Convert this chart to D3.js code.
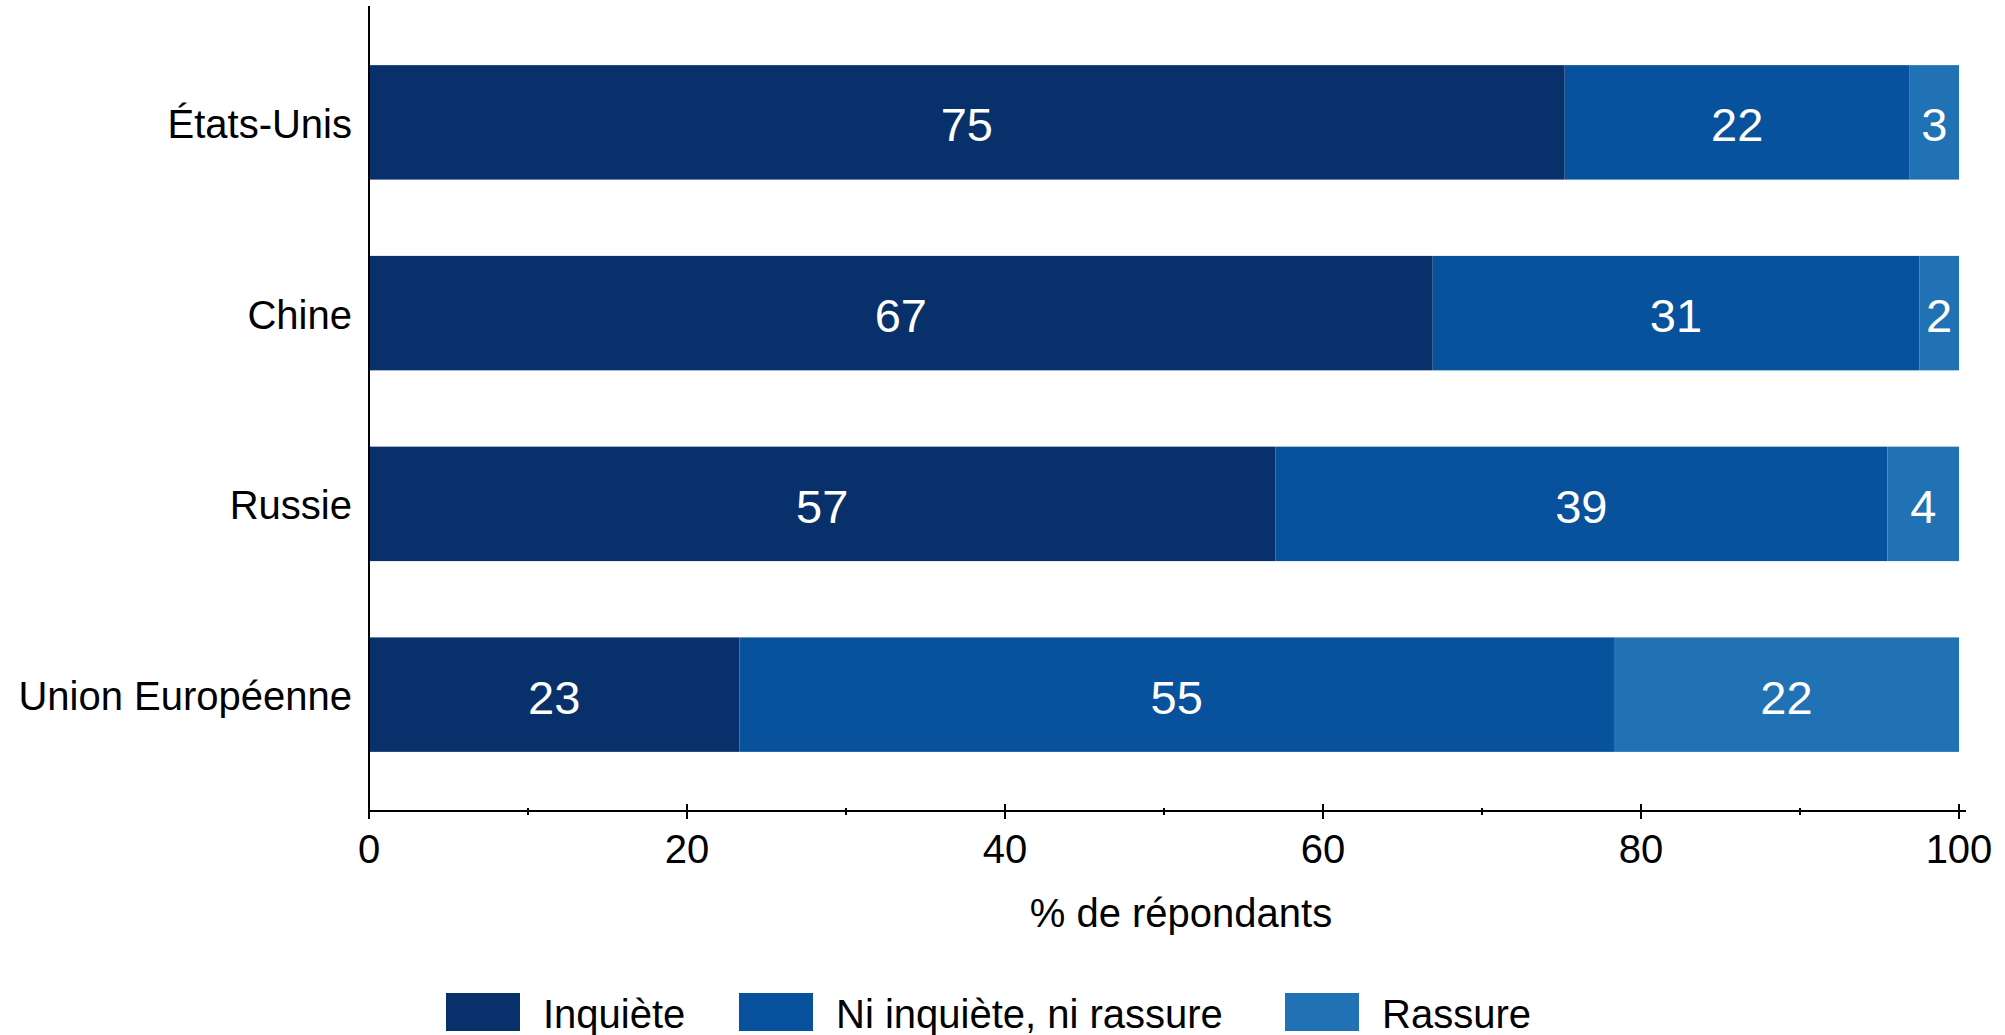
<!DOCTYPE html>
<html><head><meta charset="utf-8">
<script src="https://cdn.jsdelivr.net/npm/d3@7"></script>
<style>html,body{margin:0;padding:0;background:#fff;}svg{display:block;font-family:"Liberation Sans",Arial,sans-serif;}</style>
</head><body>
<script>
const categories = ["États-Unis", "Chine", "Russie", "Union Européenne"];
const seriesNames = ["Inquiète", "Ni inquiète, ni rassure", "Rassure"];
const inquiete = [75.2, 66.9, 57.0, 23.3];
const niNi = [21.7, 30.6, 38.5, 55.0];
const rassure = [3.1, 2.5, 4.5, 21.7];
const labelsInquiete = [75, 67, 57, 23];
const labelsNiNi = [22, 31, 39, 55];
const labelsRassure = [3, 2, 4, 22];
const xTicks = [0, 20, 40, 60, 80, 100];
const xMinorTicks = [10, 30, 50, 70, 90];
const colors = ["#08306b", "#08519c", "#2171b5"];

const W = 2005, H = 1035;
const svg = d3.select("body").append("svg").attr("width", W).attr("height", H);
const x = d3.scaleLinear().domain([0, 100]).range([369, 1959]);
const y = d3.scaleBand().domain(categories).range([6, 811]).paddingInner(0.4).paddingOuter(0.31);

const rows = categories.map((c, i) => ({cat: c, vals: [inquiete[i], niNi[i], rassure[i]], labels: [labelsInquiete[i], labelsNiNi[i], labelsRassure[i]]}));
rows.forEach(r => {
  let acc = 0;
  r.vals.forEach((v, k) => {
    const x0 = acc, x1 = acc + v; acc = x1;
    svg.append("rect").attr("x", x(x0)).attr("y", y(r.cat)).attr("width", x(x1) - x(x0)).attr("height", y.bandwidth()).attr("fill", colors[k]);
    svg.append("text").attr("x", (x(x0) + x(x1)) / 2).attr("y", y(r.cat) + y.bandwidth() / 2 + 2).attr("dy", "0.36em")
      .attr("text-anchor", "middle").attr("fill", "#fff").attr("font-size", 47).text(r.labels[k]);
  });
});

// Left axis line
svg.append("line").attr("x1", 369).attr("x2", 369).attr("y1", 6).attr("y2", 811).attr("stroke", "#000").attr("stroke-width", 2);
// category labels
categories.forEach(c => {
  svg.append("text").attr("x", 352).attr("y", y(c) + y.bandwidth() / 2 + 1).attr("dy", "0.36em").attr("text-anchor", "end")
    .attr("font-size", 40).attr("fill", "#000").text(c);
});
// bottom axis
svg.append("line").attr("x1", 369).attr("x2", 1966).attr("y1", 811).attr("y2", 811).attr("stroke", "#000").attr("stroke-width", 2);
xTicks.forEach(t => {
  svg.append("line").attr("x1", x(t)).attr("x2", x(t)).attr("y1", 804).attr("y2", 819).attr("stroke", "#000").attr("stroke-width", 2);
  svg.append("text").attr("x", x(t)).attr("y", 849).attr("dy", "0.36em").attr("text-anchor", "middle").attr("font-size", 40).text(t);
});
xMinorTicks.forEach(t => {
  svg.append("line").attr("x1", x(t)).attr("x2", x(t)).attr("y1", 808).attr("y2", 815).attr("stroke", "#000").attr("stroke-width", 2);
});
svg.append("text").attr("x", (x(0) + x(100)) / 2 + 17).attr("y", 913).attr("dy", "0.36em").attr("text-anchor", "middle").attr("font-size", 40).text("% de répondants");

// legend
const legX = [446, 739, 1285];
seriesNames.forEach((n, k) => {
  svg.append("rect").attr("x", legX[k]).attr("y", 993).attr("width", 74).attr("height", 38).attr("fill", colors[k]);
  svg.append("text").attr("x", legX[k] + 97).attr("y", 1014).attr("dy", "0.36em").attr("font-size", 40).text(n);
});
</script>
</body></html>
